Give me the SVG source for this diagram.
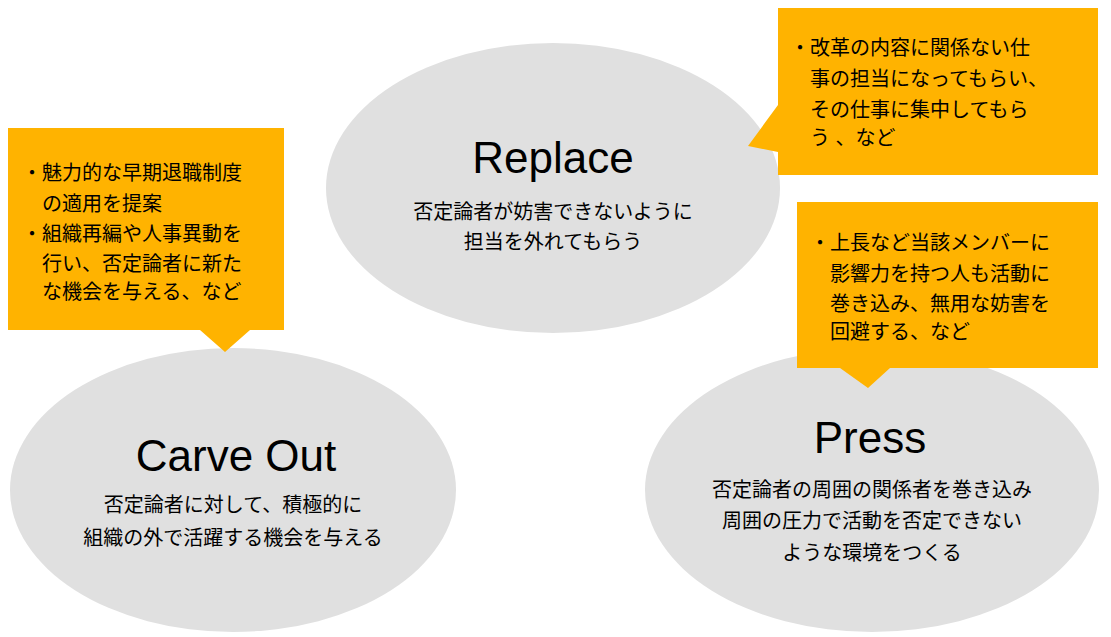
<svg xmlns="http://www.w3.org/2000/svg" width="1111" height="637" viewBox="0 0 1111 637">
<style>
.ell{fill:#e0e0e0}
.co{fill:#ffb300}
.t{font-family:"Liberation Sans","Noto Sans CJK JP",sans-serif;fill:#000}
.h{font-size:44px;text-anchor:middle}
.s{font-size:20px;text-anchor:middle}
.c{font-size:20px}
</style>
<g id="replace"><ellipse class="ell" cx="553" cy="188" rx="227" ry="145"/>
<text class="t h" x="553" y="173">Replace</text>
<text class="t s" x="553" y="219">否定論者が妨害できないように</text>
<text class="t s" x="553" y="249">担当を外れてもらう</text></g>
<g id="carveout"><ellipse class="ell" cx="233" cy="490" rx="223" ry="142"/>
<text class="t h" x="236" y="471">Carve Out</text>
<text class="t s" x="233" y="512">否定論者に対して、積極的に</text>
<text class="t s" x="233" y="545">組織の外で活躍する機会を与える</text></g>
<g id="press"><ellipse class="ell" cx="872" cy="490" rx="227" ry="142"/>
<text class="t h" x="870" y="453">Press</text>
<text class="t s" x="872" y="497">否定論者の周囲の関係者を巻き込み</text>
<text class="t s" x="872" y="528">周囲の圧力で活動を否定できない</text>
<text class="t s" x="872" y="560">ような環境をつくる</text></g>
<g id="callout-left"><path class="co" d="M8 128H284V330H250L225 352L200 330H8Z"/>
<text class="t c" x="22" y="180">・魅力的な早期退職制度</text>
<text class="t c" x="42" y="211">の適用を提案</text>
<text class="t c" x="22" y="241">・組織再編や人事異動を</text>
<text class="t c" x="42" y="271">行い、否定論者に新た</text>
<text class="t c" x="42" y="299">な機会を与える、など</text></g>
<g id="callout-topright"><path class="co" d="M778 8H1098V175H778V152L748 146L778 105Z"/>
<text class="t c" x="790" y="55">・改革の内容に関係ない仕</text>
<text class="t c" x="810" y="86">事の担当になってもらい、</text>
<text class="t c" x="810" y="117">その仕事に集中してもら</text>
<text class="t c" x="810" y="145">う 、など</text></g>
<g id="callout-right"><path class="co" d="M797 202H1098V368H890L868 388L840 368H797Z"/>
<text class="t c" x="810" y="250">・上長など当該メンバーに</text>
<text class="t c" x="830" y="281">影響力を持つ人も活動に</text>
<text class="t c" x="830" y="311">巻き込み、無用な妨害を</text>
<text class="t c" x="830" y="339">回避する、など</text></g>
<g id="connectors"/>
</svg>
